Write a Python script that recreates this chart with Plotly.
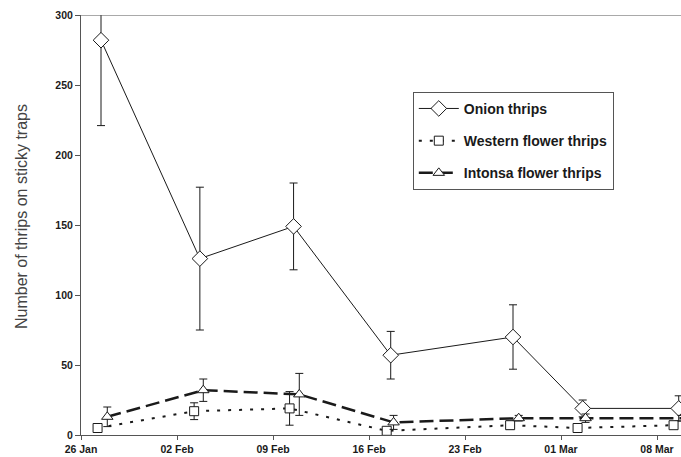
import plotly.graph_objects as go

# Sampling dates (leap year, so 23 Feb + 7 days = 01 Mar)
onion_dates = ["2008-01-27 11:00", "2008-02-03 16:00", "2008-02-10 12:00", "2008-02-17 14:00",
               "2008-02-26 12:00", "2008-03-02 14:00", "2008-03-09 14:00"]
onion_counts = [282, 126, 149, 57, 70, 19, 19]
onion_err = [61, 51, 31, 17, 23, 6, 9]

western_dates = ["2008-01-27 05:00", "2008-02-03 06:00", "2008-02-10 05:00", "2008-02-17 07:00",
                 "2008-02-26 07:00", "2008-03-02 05:00", "2008-03-09 05:00"]
western_counts = [5, 17, 19, 3, 7, 5, 7]
western_err = [0, 6, 12, 1, 3, 1, 2]

intonsa_dates = ["2008-01-27 22:00", "2008-02-03 22:00", "2008-02-10 22:00", "2008-02-17 19:00",
                 "2008-02-26 22:00", "2008-03-02 19:00", "2008-03-09 19:00"]
intonsa_counts = [13, 32, 29, 9, 12, 12, 12]
intonsa_err = [7, 8, 15, 5, 2, 3, 2]

tick_dates = ["2008-01-26", "2008-02-02", "2008-02-09", "2008-02-16",
              "2008-02-23", "2008-03-01", "2008-03-08"]
tick_labels = ["26 Jan", "02 Feb", "09 Feb", "16 Feb", "23 Feb", "01 Mar", "08 Mar"]

y_title = "Number of thrips on sticky traps"

ink = "#1a1a1a"
axis_col = "#555555"


def err(vals):
    return dict(type="data", array=vals, visible=True, color=ink, thickness=1, width=4)


fig = go.Figure()
fig.add_trace(go.Scatter(
    x=onion_dates, y=onion_counts, name="Onion thrips", mode="lines+markers",
    line=dict(color=ink, width=1),
    marker=dict(symbol="diamond", size=12, color="white", line=dict(color=ink, width=1)),
    error_y=err(onion_err), cliponaxis=False, legendgroup="a",
))
fig.add_trace(go.Scatter(
    x=western_dates, y=western_counts, name="Western flower thrips", mode="lines+markers",
    line=dict(color=ink, width=2, dash="3px,8px"),
    marker=dict(symbol="square", size=9, color="white", line=dict(color=ink, width=1)),
    error_y=err(western_err), cliponaxis=False, legendgroup="b",
))
fig.add_trace(go.Scatter(
    x=intonsa_dates, y=intonsa_counts, name="Intonsa flower thrips", mode="lines+markers",
    line=dict(color=ink, width=2.5, dash="14px,6px"),
    marker=dict(symbol="triangle-up", size=10, color="white", line=dict(color=ink, width=1)),
    error_y=err(intonsa_err), cliponaxis=False, legendgroup="c",
))

# top frame line at y = 300
fig.add_shape(type="line", xref="paper", yref="y", x0=-0.01, x1=1, y0=300, y1=300,
              line=dict(color=axis_col, width=1))

# vertical y-axis title
fig.add_annotation(text=y_title, textangle=-90, xref="paper", yref="paper",
                   x=-0.1, y=0.519, xanchor="center", yanchor="middle", showarrow=False,
                   font=dict(size=16, color="#444444", family="Arial, Liberation Sans, sans-serif"))

fig.update_layout(
    width=681, height=457,
    margin=dict(l=81, r=0, t=15, b=22),
    paper_bgcolor="white", plot_bgcolor="white",
    font=dict(family="Arial, Liberation Sans, sans-serif", color=ink),
    showlegend=True,
    legend=dict(
        x=0.553, y=0.817, xanchor="left", yanchor="top",
        bgcolor="white", bordercolor=axis_col, borderwidth=1,
        font=dict(size=14, family="Arial, Liberation Sans", color=ink, weight="bold"),
        tracegroupgap=11, itemwidth=40,
    ),
)
fig.update_xaxes(
    type="date", range=["2008-01-26", "2008-03-09 18:00"],
    tickvals=tick_dates, ticktext=tick_labels,
    showline=True, linecolor=axis_col, linewidth=1,
    ticks="outside", ticklen=4, tickcolor=axis_col,
    showgrid=False, zeroline=False,
    tickfont=dict(size=10.5, color=ink, weight="bold"),
)
fig.update_yaxes(
    range=[0, 300], tickvals=[0, 50, 100, 150, 200, 250, 300],
    showline=True, linecolor=axis_col, linewidth=1,
    ticks="outside", ticklen=5, tickcolor=axis_col,
    showgrid=False, zeroline=False,
    tickfont=dict(size=10.5, color=ink, weight="bold"),
)

fig.write_html("out.html")
